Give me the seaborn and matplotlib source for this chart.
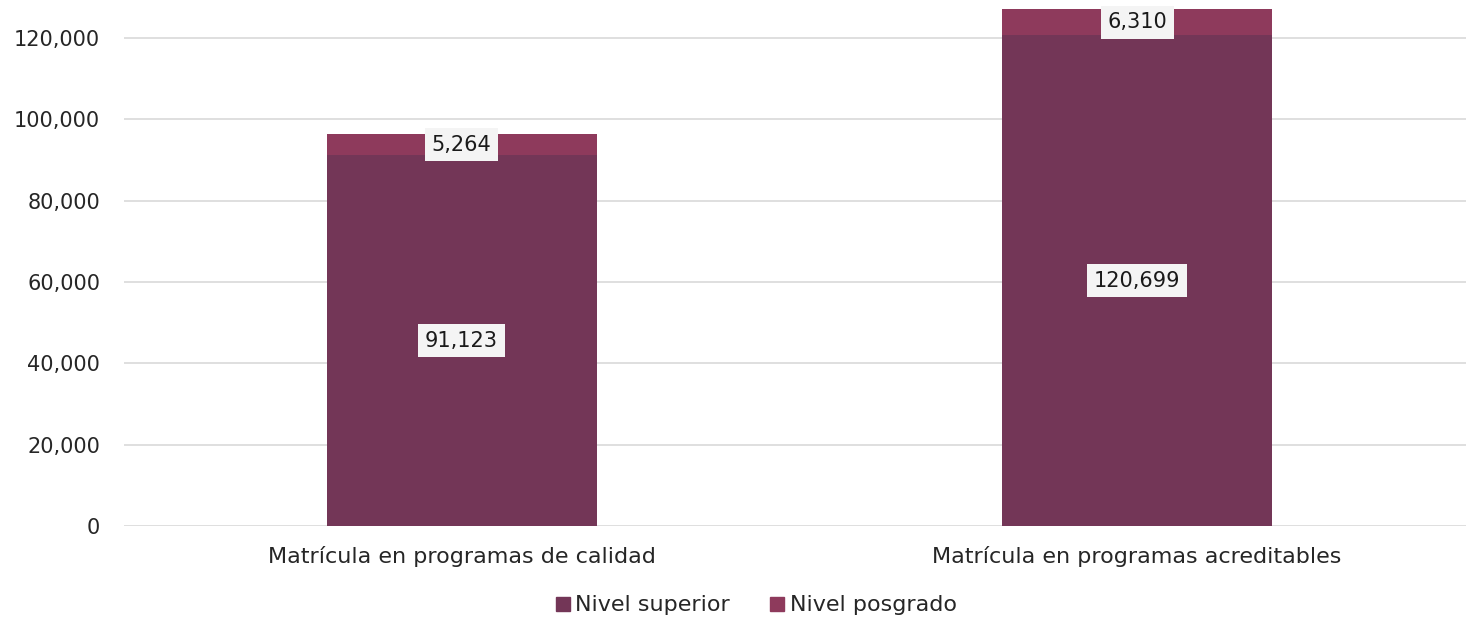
import pandas as pd
import seaborn as sns
import matplotlib.pyplot as plt
from matplotlib.lines import Line2D
from matplotlib.ticker import FuncFormatter

categories = ["Matrícula en programas de calidad", "Matrícula en programas acreditables"]
nivel_superior = [91123, 120699]
nivel_posgrado = [5264, 6310]
series_names = ["Nivel superior", "Nivel posgrado"]
colors = ["#733657", "#8E3A5C"]

df = pd.DataFrame({
    "categoria": categories,
    "superior": nivel_superior,
    "posgrado": nivel_posgrado,
})
df["total"] = df["superior"] + df["posgrado"]

sns.set_theme(style="white")
plt.rcParams["font.family"] = ["DejaVu Sans"]
plt.rcParams["font.size"] = 14

fig, ax = plt.subplots(figsize=(14.66, 6.19), dpi=100)
fig.subplots_adjust(left=0.0845, right=1.006, top=0.988, bottom=0.15)

# stacked: total first (posgrado colour), then superior on top of it
sns.barplot(data=df, x="categoria", y="total", color=colors[1], width=0.4,
            saturation=1, linewidth=0, ax=ax, zorder=2)
sns.barplot(data=df, x="categoria", y="superior", color=colors[0], width=0.4,
            saturation=1, linewidth=0, ax=ax, zorder=3)

box = dict(boxstyle="square,pad=0.32", facecolor="#F4F4F4", edgecolor="none")
for i, row in df.iterrows():
    ax.text(i, row["superior"] / 2, f"{row['superior']:,}", ha="center", va="center",
            fontsize=15, color="#1a1a1a", bbox=box, zorder=5)
    ax.text(i, row["superior"] + row["posgrado"] / 2, f"{row['posgrado']:,}",
            ha="center", va="center", fontsize=15, color="#1a1a1a", bbox=box, zorder=5)

ax.set_xlim(-0.5, 1.5)
ax.set_ylim(0, 127500)
ax.set_yticks(range(0, 120001, 20000))
ax.yaxis.set_major_formatter(FuncFormatter(lambda v, p: f"{int(v):,}"))
ax.yaxis.grid(True, color="#D9D9D9", linewidth=1.2, zorder=0)
ax.set_axisbelow(True)
ax.set_xlabel("")
ax.set_ylabel("")
ax.tick_params(axis="y", labelsize=15, colors="#262626", pad=17, length=0)
ax.tick_params(axis="x", labelsize=16, colors="#262626", pad=14, length=0)
for s in ax.spines.values():
    s.set_visible(False)

handles = [Line2D([0], [0], marker="s", linestyle="none", markersize=10,
                  markerfacecolor=c, markeredgecolor=c) for c in colors]
ax.legend(handles, series_names, loc="upper center", bbox_to_anchor=(0.466, -0.095),
          ncol=2, frameon=False, fontsize=16, handletextpad=0.0, columnspacing=1.6,
          handlelength=1.1)

plt.savefig("out.png", dpi=100)
plt.close("all")
